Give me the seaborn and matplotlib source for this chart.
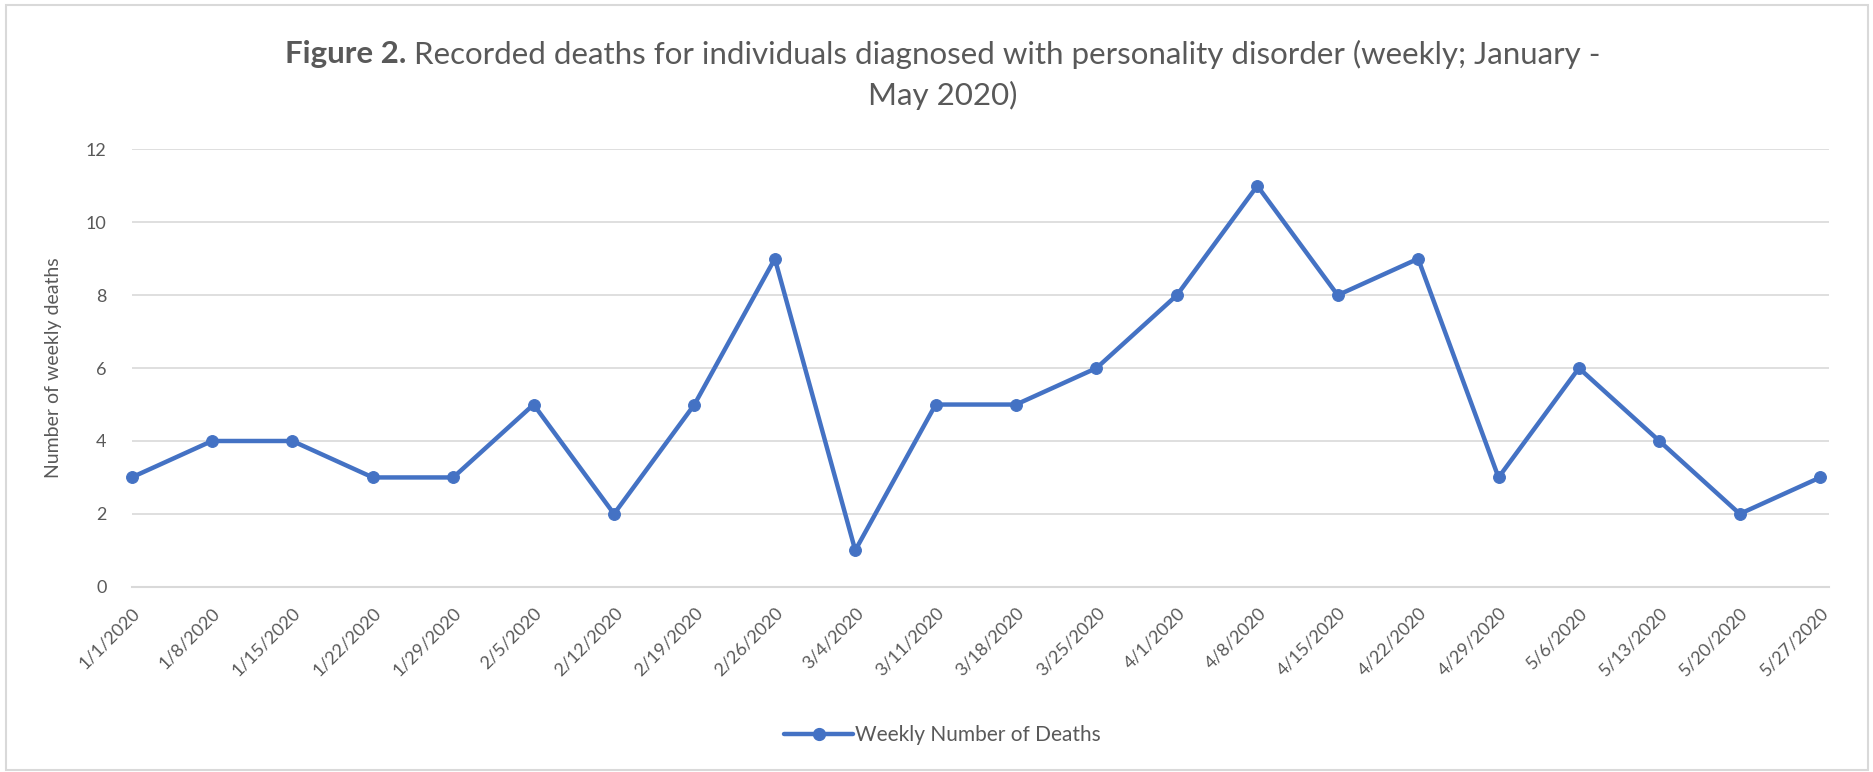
import matplotlib
matplotlib.use("Agg")
import matplotlib.pyplot as plt
import numpy as np
import pandas as pd
import seaborn as sns
from matplotlib.lines import Line2D
from matplotlib.patches import Rectangle

weeks = [
    "1/1/2020", "1/8/2020", "1/15/2020", "1/22/2020", "1/29/2020", "2/5/2020",
    "2/12/2020", "2/19/2020", "2/26/2020", "3/4/2020", "3/11/2020", "3/18/2020",
    "3/25/2020", "4/1/2020", "4/8/2020", "4/15/2020", "4/22/2020", "4/29/2020",
    "5/6/2020", "5/13/2020", "5/20/2020", "5/27/2020",
]
deaths = [3, 4, 4, 3, 3, 5, 2, 5, 9, 1, 5, 5, 6, 8, 11, 8, 9, 3, 6, 4, 2, 3]
y_ticks = [0, 2, 4, 6, 8, 10, 12]

BLUE = "#4472C4"
TEXT = "#595959"
GRID = "#D9D9D9"

sns.set_style("white")
plt.rcParams["font.family"] = ["Lato", "DejaVu Sans"]

df = pd.DataFrame({"pos": np.arange(len(weeks)), "deaths": deaths})

fig = plt.figure(figsize=(18.74, 7.72), dpi=100)
ax = fig.add_axes([0.0702, 0.2399, 0.9058, 0.5666])

sns.lineplot(data=df, x="pos", y="deaths", ax=ax, color=BLUE, linewidth=3.2,
             marker="o", markersize=8.5, markeredgecolor=BLUE, clip_on=False)

ax.set_xlim(0, 21.11)
ax.set_ylim(0, 12)
ax.set_yticks(y_ticks)
ax.set_yticklabels([str(v) for v in y_ticks], fontsize=13, color=TEXT)
ax.tick_params(axis="y", length=0, pad=18)
ax.set_xticks(df["pos"])
ax.set_xticklabels(weeks, rotation=45, ha="right", rotation_mode="anchor",
                   fontsize=13, color=TEXT)
ax.tick_params(axis="x", length=7, width=1.2, color=GRID, pad=6, direction="out")

ax.grid(axis="y", color=GRID, linewidth=1.2)
ax.grid(axis="x", visible=False)
for side in ["top", "right", "left"]:
    ax.spines[side].set_visible(False)
ax.spines["bottom"].set_color(GRID)
ax.spines["bottom"].set_linewidth(1.5)

ax.set_xlabel("")
ax.set_ylabel("Number of weekly deaths", fontsize=14, color=TEXT)
ax.yaxis.set_label_coords(-0.041, 0.5)

# title: bold "Figure 2." followed by regular text, centred as one line
t_bold = fig.text(0.0, 0.93, "Figure 2.", fontsize=22.5, fontweight="bold", color=TEXT,
                  ha="left", va="center")
t_rest = fig.text(0.0, 0.93,
                  " Recorded deaths for individuals diagnosed with personality disorder (weekly; January -",
                  fontsize=22.5, color=TEXT, ha="left", va="center")
fig.canvas.draw()
r = fig.canvas.get_renderer()
wb = t_bold.get_window_extent(r).width / fig.bbox.width
wr = t_rest.get_window_extent(r).width / fig.bbox.width
x0 = 0.503 - (wb + wr) / 2
t_bold.set_x(x0)
t_rest.set_x(x0 + wb)
fig.text(0.503, 0.877, "May 2020)", fontsize=22.5, color=TEXT, ha="center", va="center")

handle = Line2D([], [], color=BLUE, linewidth=3.2, marker="o", markersize=8.5)
fig.legend([handle], ["Weekly Number of Deaths"], loc="center", bbox_to_anchor=(0.503, 0.048),
           frameon=False, fontsize=15, labelcolor=TEXT, handlelength=3.3, handletextpad=0.1)

fig.patches.append(Rectangle((0.003, 0.003), 0.994, 0.991, transform=fig.transFigure,
                             fill=False, edgecolor=GRID, linewidth=1.5))

fig.savefig("out.png", dpi=100)
